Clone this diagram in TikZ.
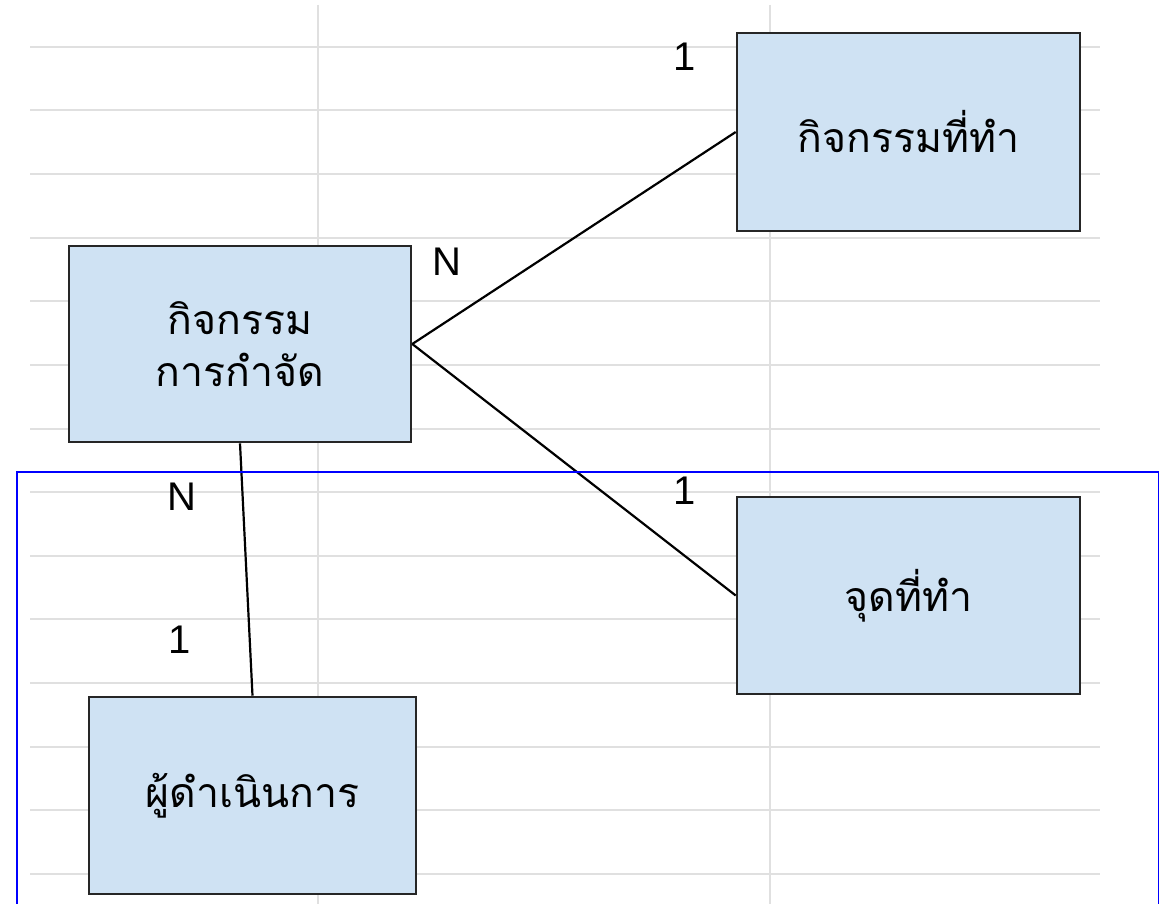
\documentclass[tikz,border=0pt]{standalone}
\usepackage{fontspec}
\setmainfont{Liberation Sans}
\newfontfamily\thaifont[Script=Thai]{Loma}
\begin{document}
\begin{tikzpicture}[x=1pt,y=-1pt,
  gridline/.style={draw=black!12,line width=2pt},
  entity/.style={draw=black!85,line width=2.6pt,fill=boxblue,rectangle,inner sep=0pt,
    font=\thaifont\fontsize{41}{52}\selectfont,align=center},
  conn/.style={draw=black,line width=2.2pt},
  card/.style={font=\fontsize{40}{40}\selectfont,inner sep=0pt}]
\definecolor{boxblue}{RGB}{207,226,243}
\useasboundingbox (0,0) rectangle (1160,904);
\fill[white] (0,0) rectangle (1160,904);
% grid
\foreach \yy in {47,110.5,174,238,301.5,365,428.5,492,555.5,619,683,746.5,810,873.5}
  \draw[gridline] (30,\yy) -- (1100,\yy);
\foreach \xx in {318,770}
  \draw[gridline] (\xx,5) -- (\xx,904);
% entities
\node[entity,minimum width=343pt,minimum height=198pt] (act) at (908.5,132) {กิจกรรมที่ทำ};
\node[entity,minimum width=342pt,minimum height=196pt] (disp) at (240,344) {กิจกรรม\\การกำจัด};
\node[entity,minimum width=343pt,minimum height=197pt] (spot) at (908.5,595.5) {จุดที่ทำ};
\node[entity,minimum width=327pt,minimum height=197pt] (op) at (252.5,795.5) {ผู้ดำเนินการ};
% connectors
\draw[conn] (disp.east) -- (act.west);
\draw[conn] (disp.east) -- (spot.west);
\draw[conn] (disp.south) -- (op.north);
% cardinalities
\node[card] (c1) at (685,57) {1};
\node[card] (c2) at (447,262) {N};
\node[card] (c3) at (685,491) {1};
\node[card] (c4) at (182,497) {N};
\node[card] (c5) at (180,640) {1};
% selection frame
\draw[blue,line width=1.6pt] (17,950) -- (17,472) -- (1158.5,472) -- (1158.5,950);
\end{tikzpicture}
\end{document}
